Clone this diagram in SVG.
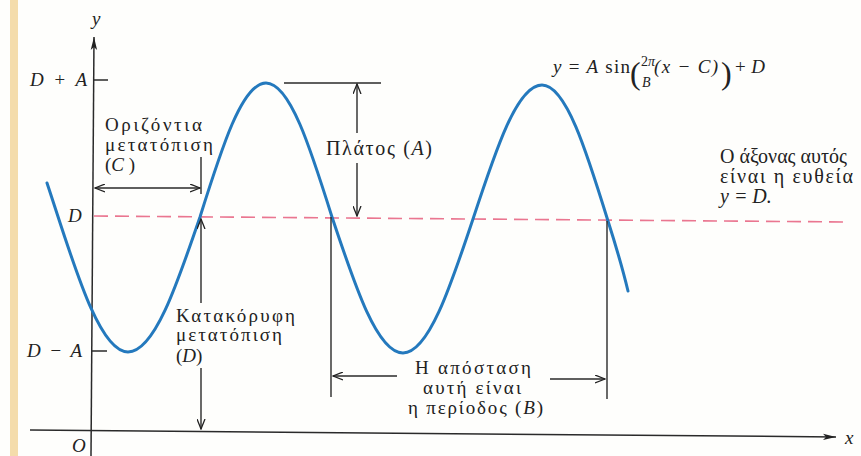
<svg xmlns="http://www.w3.org/2000/svg" width="861" height="456" viewBox="0 0 861 456" font-family="Liberation Serif, DejaVu Serif, serif">
<defs>
<marker id="axarr" markerUnits="userSpaceOnUse" markerWidth="14" markerHeight="8" refX="13" refY="4" orient="auto">
<path d="M0,0.8 L13,4 L0,7.2 L3,4 Z" fill="#222"/>
</marker>
<marker id="dimarr" markerUnits="userSpaceOnUse" markerWidth="11" markerHeight="9" refX="10" refY="4.5" orient="auto-start-reverse">
<path d="M0,0.5 L10,4.5 L0,8.5" fill="none" stroke="#222" stroke-width="1.3"/>
</marker>
</defs>
<style>
.ln{stroke:#2a2a2a;stroke-width:1.5;fill:none}
.dim{stroke:#2a2a2a;stroke-width:1.4;fill:none}
.gr{font-size:19px;fill:#222}
.m{font-style:italic;font-size:19px;fill:#222}
.mu{font-size:19px;fill:#222}
.curve{stroke:#2479bd;stroke-width:3;fill:none;stroke-linecap:round}
.mid{stroke:#ea7690;stroke-width:1.6;stroke-dasharray:14 7;fill:none}
</style>
<rect x="0" y="0" width="861" height="456" fill="#fefefc"/>
<rect x="10" y="0" width="8" height="456" fill="#f4dcab"/>

<g id="axes">
<line class="ln" x1="91" y1="456" x2="94" y2="37" marker-end="url(#axarr)"/>
<line class="ln" x1="30" y1="430" x2="836" y2="437" marker-end="url(#axarr)"/>
<line class="ln" x1="94" y1="80" x2="108" y2="80"/>
<line class="ln" x1="92" y1="351" x2="107" y2="351"/>
<text class="m" x="92" y="25">y</text>
<text class="m" x="845" y="444">x</text>
<text class="m" x="72" y="452">O</text>
<text class="m" x="30" y="86" textLength="57">D + A</text>
<text class="m" x="27" y="357" textLength="55">D − A</text>
<text class="m" x="68" y="222">D</text>
</g>

<g id="midline">
<line class="mid" x1="94" y1="216" x2="850" y2="222"/>
</g>

<g id="curve">
<path class="curve" d="M47,183 C72,258 98,352 128,352 C154.1,352 176.5,286.2 200,217 C221.5,148.4 242.1,83 266,83 C289.9,83 310.5,148.4 332,217 C355.2,286.7 377.3,353 403,353 C428.3,353 450.2,287.6 473,219 C495.5,150.4 517,85 542,85 C565.9,85 586.5,151.3 608,221 C615,243 622,266 628,291"/>
</g>

<g id="formula">
<text class="mu" x="553" y="73" textLength="77"><tspan font-style="italic">y</tspan> = <tspan font-style="italic">A</tspan> sin</text>
<text class="mu" x="630" y="84" style="font-size:32px">(</text>
<text class="m" x="641" y="66" style="font-size:14px"><tspan font-style="normal">2</tspan>π</text>
<text class="m" x="642" y="87" style="font-size:14px">B</text>
<text class="m" x="654" y="73" textLength="64">(x − C)</text>
<text class="mu" x="721" y="84" style="font-size:32px">)</text>
<text class="mu" x="735" y="73" textLength="30">+ <tspan font-style="italic">D</tspan></text>
</g>

<g id="axis-note">
<text class="gr" x="720" y="163" style="font-size:20px">Ο άξονας αυτός</text>
<text class="gr" x="720" y="183" style="font-size:20px" textLength="133">είναι η ευθεία</text>
<text class="m" x="720" y="203" style="font-size:20px">y = D.</text>
</g>

<g id="horizontal-shift">
<text class="gr" x="105" y="131" textLength="97">Οριζόντια</text>
<text class="gr" x="105" y="151" textLength="108">μετατόπιση</text>
<text class="gr" x="105" y="171">(<tspan font-style="italic">C</tspan> )</text>
</g>

<g id="amplitude">
<text class="gr" x="326" y="155" style="font-size:20px" textLength="106">Πλάτος (<tspan font-style="italic">A</tspan>)</text>
</g>

<g id="vertical-shift">
<text class="gr" x="176" y="322" textLength="119">Κατακόρυφη</text>
<text class="gr" x="176" y="341" textLength="106">μετατόπιση</text>
<text class="gr" x="176" y="362">(<tspan font-style="italic">D</tspan>)</text>
</g>

<g id="period">
<text class="gr" x="415" y="374" textLength="116">Η απόσταση</text>
<text class="gr" x="423" y="394" textLength="98">αυτή είναι</text>
<text class="gr" x="408" y="414" textLength="135">η περίοδος (<tspan font-style="italic">B</tspan>)</text>
</g>

<g id="connectors">
<line class="dim" x1="95" y1="188" x2="200" y2="188" marker-start="url(#dimarr)" marker-end="url(#dimarr)"/>
<line class="dim" x1="201" y1="157" x2="201" y2="194"/>
<line class="dim" x1="201" y1="303" x2="201" y2="219" marker-end="url(#dimarr)"/>
<line class="dim" x1="201" y1="368" x2="201" y2="429" marker-end="url(#dimarr)"/>
<line class="dim" x1="284" y1="83" x2="381" y2="83"/>
<line class="dim" x1="357" y1="133" x2="357" y2="84" marker-end="url(#dimarr)"/>
<line class="dim" x1="357" y1="163" x2="357" y2="216" marker-end="url(#dimarr)"/>
<line class="dim" x1="331" y1="217" x2="331" y2="397"/>
<line class="dim" x1="607" y1="221" x2="607" y2="399"/>
<line class="dim" x1="397" y1="376" x2="333" y2="376" marker-end="url(#dimarr)"/>
<line class="dim" x1="550" y1="379" x2="605" y2="379" marker-end="url(#dimarr)"/>
</g>
</svg>
